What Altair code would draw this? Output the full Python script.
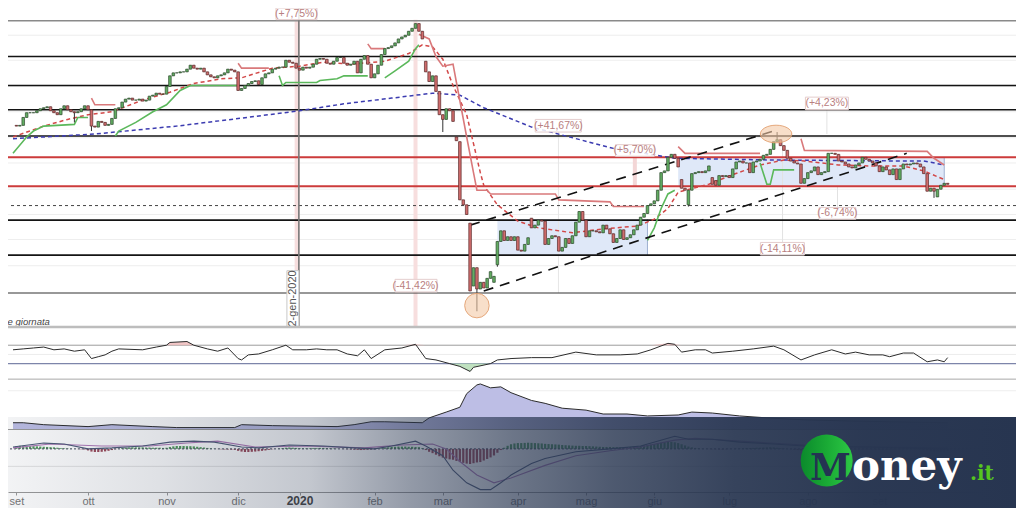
import json
import altair as alt
import pandas as pd

W, H = 1008, 500

# ---------------- values ----------------
month_labels = ["set", "ott", "nov", "dic", "2020", "feb", "mar", "apr", "mag", "giu", "lug", "ago", "set"]
month_start = [0, 21, 44, 65, 83, 105, 125, 147, 167, 187, 209, 232, 253]  # trading-day index

# daily closes (index 0 = 2 set 2019)
close = [
    21340, 21370, 21690, 21880, 21880, 21880, 21960, 22040, 22080, 22120,
    21960, 21880, 21800, 22040, 22160, 22000, 21920, 21880, 21920, 22040,
    22160, 22000, 21340, 21300, 21530, 21490, 21370, 21410, 21650, 22040,
    22080, 22310, 22430, 22470, 22390, 22390, 22430, 22350, 22390, 22550,
    22590, 22670, 22630, 22630, 22940, 23370, 23490, 23490, 23530, 23530,
    23640, 23800, 23680, 23640, 23680, 23530, 23410, 23330, 23290, 23370,
    23410, 23490, 23640, 23600, 23530, 22780, 22860, 22980, 23060, 23140,
    23170, 23020, 23290, 23450, 23490, 23640, 23680, 23720, 23720, 24000,
    23920, 23880, 23680, 23600, 23720, 23680, 23720, 23840, 24040, 24070,
    24040, 23880, 23840, 23960, 24110, 24110, 23880, 23800, 23840, 23960,
    23490, 24040, 24190, 23840, 23290, 23450, 23800, 24230, 24470, 24510,
    24580, 24700, 24860, 24940, 25010, 25170, 25290, 25480, 25170, 24860,
    23530, 23140, 23370, 22740, 21800, 21610, 22040, 21960, 21530, 20750,
    18360, 18160, 17770, 14680, 15620, 14760, 15030, 14800, 15190, 15460,
    15270, 16680, 17110, 16720, 16870, 16720, 16870, 16330, 16290, 16560,
    16830, 17230, 17340, 17540, 17500, 16560, 16800, 16910, 16870, 16290,
    16440, 16800, 16600, 16910, 17460, 17890, 17540, 16870, 17110, 17110,
    17070, 17030, 17340, 17190, 16990, 16640, 16800, 17150, 16760, 16830,
    16950, 17150, 17340, 17660, 17810, 18130, 18200, 18320, 18750, 19460,
    19530, 20080, 20200, 20040, 19690, 18830, 18750, 18750, 19420, 19460,
    19500, 19460, 19530, 19730, 18990, 18950, 19340, 19300, 19340, 19260,
    19610, 19890, 19930, 19850, 19850, 19460, 19890, 19930, 20000, 20160,
    20200, 20400, 20710, 20790, 20550, 20360, 20040, 19930, 19850, 19810,
    19030, 19220, 19460, 19530, 19690, 19380, 19460, 19500, 20240, 20240,
    20200, 19930, 19890, 19810, 19690, 19650, 19770, 19850, 20080, 20000,
    19930, 19850, 19730, 19500, 19690, 19570, 19380, 19610, 19180, 19610,
    19810, 19770, 19810, 19850, 19810, 19690, 19420, 18710, 18830, 18710,
    18790, 18950, 19030, 18990,
]
open_first = 21370
open_gap = {120: 23960, 129: 20900, 130: 20710, 133: 17420, 134: 14880, 140: 15030,
            141: 15740, 151: 17620, 195: 19180, 197: 18160, 204: 19260, 205: 19140, 270: 18480}
wick_high = {135: 15540, 223: 21100}
wick_low = {17: 21490, 22: 21140, 125: 21100, 135: 13860, 141: 15660, 197: 18090, 269: 18440}

# long moving average (blue dashed) and short average (red dashed)
ma_long_i = [-1, 23, 47, 70, 83, 96, 110, 122, 130, 137, 151, 175, 193, 222, 260, 266, 272]
ma_long_v = [20830, 21020, 21340, 21730, 21960, 22240, 22470, 22670, 22590, 22080, 21300,
             20440, 20040, 19970, 19930, 19930, 19770]
ema_i = [-1, 8, 15, 21, 28, 37, 45, 52, 60, 66, 75, 83, 90, 98, 108, 115, 119, 122, 125, 128,
         132, 134, 136, 137, 141, 147, 153, 163, 172, 182, 187, 191, 194, 203, 210, 218, 225,
         231, 241, 250, 260, 266, 272]
ema_v = [20900, 21340, 21610, 21800, 21920, 22390, 22710, 23060, 23250, 23290, 23680, 23760,
         23920, 23840, 23960, 24270, 24620, 24540, 24040, 22980, 21800, 20630, 19460, 18950,
         18160, 17500, 17230, 17030, 17190, 17300, 17580, 18010, 18670, 18990, 19380, 19770,
         19970, 19930, 19770, 19730, 19730, 19530, 19180]

# trailing stop (green under price, red over price)
stop_segments = [
    ("up", [-1, 3, 5, 8, 17, 18, 21], [20240, 20900, 21140, 21340, 21410, 21690, 21690]),
    ("dn", [22, 23, 29], [22470, 22200, 22200]),
    ("up", [29, 30, 35, 40, 44, 48, 51, 65], [20940, 21140, 21490, 21920, 22200, 22780, 22980, 22980]),
    ("dn", [65, 66, 74], [23880, 23680, 23680]),
    ("up", [77, 78, 79, 88, 89, 94, 96, 103], [23370, 22980, 23100, 23100, 23180, 23250, 23370, 23370]),
    ("dn", [103, 104, 108], [24660, 24470, 24470]),
    ("up", [108, 111, 115, 117, 118], [23290, 23570, 23960, 24470, 24620]),
    ("dn", [118, 121, 123, 125, 128, 129, 132, 134, 135, 138, 139, 158, 159, 174, 175, 184],
     [25050, 24860, 24150, 23760, 23840, 23100, 20900, 19460, 18750, 18750, 18600, 18600,
      18360, 18280, 18090, 18090]),
    ("up", [185, 187, 189, 191, 193], [16720, 17230, 18010, 18600, 18750]),
    ("dn", [194, 196, 218], [20510, 20240, 20240]),
    ("up", [218, 220, 221, 222, 228], [19850, 18990, 18990, 19570, 19570]),
    ("dn", [230, 231, 267, 269, 272], [20830, 20360, 20320, 20040, 19770]),
]

channel_i = [[137, 261], [133, 222]]
channel_v = [[14680, 20240], [17340, 21140]]

sr_black = [24150, 22980, 22000, 20940, 17540, 16130]
sr_thin = [14600]
sr_grey = [25600]
sr_red = [20080, 18910]
sr_dashed = [18130]
grid_prices = [25010, 24000, 22940, 21920, 20870, 19850, 18790, 17770, 16760, 15700]

box_i1 = [141, 194]
box_i2 = [185, 272]
box_top = [17580, 20080]
box_bot = [16130, 18910]

circle_i = [135, 222.7]
circle_v = [14090, 21020]

ann_text = ["(+7,75%)", "(-41,42%)", "(+41,67%)", "(+5,70%)", "(+4,23%)", "(-6,74%)", "(-14,11%)"]
ann_i = [82.1, 117.0, 158.9, 181.3, 237.6, 240.7, 224.6]
ann_v = [25875, 14896, 21354, 20357, 22255, 17812, 16384]
ann_x1 = [76.1, 111.0, 152.1, 175.6, 231.3, 235.3, 218.1]
ann_x2 = [88.1, 123.3, 165.6, 187.0, 243.9, 246.1, 231.0]
ann_top = [26110, 15150, 21610, 20590, 22510, 18050, 16640]
ann_bot = [25640, 14640, 21100, 20120, 22000, 17580, 16130]

meas_i = [82.3, 117.0, 181.3, 158.9, 237.6, 224.6, 240.7]
meas_top = [25640, 25640, 20120, 21100, 22000, 20750, 18910]
meas_bot = [13250, 13250, 18910, 14600, 21020, 16640, 18050]
meas_col = ["#f7dede", "#f7dede", "#f3d6d6", "#e6e6e6", "#e2e2e2", "#e2e2e2", "#e2e2e2"]
meas_w = [5, 4, 4, 1, 1, 1, 1]

cursor_i = 82.8
cursor_label = "2-gen-2020"

# RSI
rsi_i = [-1, 2, 5, 8, 11, 14, 17, 20, 22, 24, 26, 28, 30, 37, 41, 44, 45, 50, 52, 56,
         59, 62, 65, 66, 68, 71, 75, 79, 81, 85, 88, 91, 94, 97, 100, 102, 104, 108, 113, 117,
         120, 123, 127, 130, 133, 134, 139, 141, 145, 151, 157, 164, 170, 177, 182, 186, 191, 193, 195, 199,
         202, 204, 210, 216, 222, 225, 230, 234, 239, 243, 246, 250, 254, 256, 260, 263, 267, 270, 272, 273]
rsi_v = [60, 62, 64, 66, 60, 62, 57, 60, 41, 45, 49, 57, 62, 60, 66, 70, 76, 78, 70, 62,
         57, 64, 41, 38, 49, 51, 60, 70, 60, 60, 62, 60, 60, 51, 47, 60, 41, 60, 64, 72,
         41, 38, 30, 24, 13, 22, 30, 38, 41, 43, 43, 55, 49, 49, 51, 60, 74, 72, 55, 60,
         60, 53, 57, 62, 68, 60, 38, 49, 60, 51, 55, 49, 49, 45, 53, 53, 34, 38, 34, 43]

# volatility
vol_i = [-1, 2, 8, 21, 28, 40, 47, 64, 66, 75, 94, 99, 104, 108, 119, 121, 126, 130, 132, 135,
         136, 139, 142, 145, 151, 155, 160, 167, 172, 179, 185, 194, 198, 204, 212, 220, 231, 242, 256, 273]
vol_v = [14, 14, 10, 6, 10, 6, 4, 4, 10, 8, 6, 10, 16, 16, 14, 24, 36, 46, 74, 92,
         94, 86, 88, 76, 60, 54, 44, 40, 32, 32, 28, 30, 36, 34, 28, 24, 20, 18, 16, 14]

# MACD
macd_i = [-1, 8, 14, 21, 28, 37, 45, 52, 58, 66, 71, 80, 90, 99, 105, 110, 117, 120, 125, 128,
          132, 136, 139, 142, 145, 151, 155, 164, 174, 183, 193, 197, 204, 212, 222, 231, 240, 250, 260, 273]
macd_v = [100, 300, 250, 0, 50, 150, 350, 400, 350, 100, 50, 200, 150, 50, 0, 150, 400, 150, -350, -1100,
          -1750, -2100, -2100, -1750, -1350, -750, -500, -150, 0, 150, 650, 500, 500, 350, 250, 150, 100, 100, 50, 0]
sig_i = [-1, 10, 25, 39, 50, 59, 70, 85, 102, 113, 122, 126, 130, 135, 140, 145, 155, 164, 174, 183,
         193, 199, 212, 231, 250, 273]
sig_v = [50, 250, 150, 150, 300, 400, 100, 150, 50, 200, 250, 0, -650, -1350, -1750, -1500, -850, -350,
         -100, 100, 450, 550, 400, 200, 100, 50]
hist = (
    [150, 160, 160, 150, 140, 140, 130, 120, 110, 100, 90, 80, 60]
    + [40, 30, 20, 10, 0, -10, -20, -30]
    + [-80, -140, -160, -160, -150, -130, -100, -60]
    + [-20, 10, 40, 60, 70, 80, 80, 80, 80, 70, 70, 60, 60, 60, 50, 60]
    + [100, 130, 150, 150, 150, 140, 140, 130, 110, 90, 70, 50]
    + [30, 10, -10, -20, -30, -30, -40, -50]
    + [-100, -140, -160, -160, -150, -140, -120, -100, -80, -50]
    + [-20, 0, 20, 40, 60, 70, 60, 50, 40, 30]
    + [30, 30, 40, 40, 50, 50, 40, 30, 20, 10, 0, -10, -20, -30]
    + [-40, -50, -60, -50, -40, -30, -20, 0]
    + [30, 60, 80, 100, 110, 120, 120, 120, 110, 110, 100, 90]
    + [40, -60, -150, -220, -300, -380]
    + [-450, -500, -540, -560, -620, -680, -720, -760, -780, -740, -700, -680]
    + [-600, -520, -440, -340, -200, -60, 60, 160, 240, 280]
    + [300, 300, 310, 320, 310, 300, 290, 280, 260, 250, 240, 230, 220, 200, 190, 180, 170, 160, 160, 150]
    + [150, 140, 130, 120, 110, 100, 100, 100, 90, 90, 80, 80, 90, 100, 110, 130, 150, 180, 200, 220]
    + [250, 280, 320, 350, 360, 360, 340, 300, 240, 180]
    + [120, 80, 50, 30, 10, 0, -10, -20, -20, -30, -30, -20, -10, 0]
    + [10, 20, 30, 40, 40, 50, 60, 60, 70, 80, 90, 80, 60, 40, 20, 0, -20, -40, -60, -80, -100]
    + [-90, -80, -70, -60, -40, -20, 0, 20, 30, 30, 20, 10, 0, -10, -20, -20, -20, -20, -20]
    + [-20, -30, -40, -40, -40, -30, -30, -20, -20, -10, 0, 0, -10, -20, -30, -50, -80, -110, -130, -140, -140, -130, -120]
)

# ---------------- scales / helpers ----------------
FONT = "Liberation Sans"
XS = alt.Scale(domain=[-1.0, 291.57], nice=False, zero=False)
label_expr = "%s[indexof(%s, datum.value)]" % (json.dumps(month_labels), json.dumps(month_start))
XAX = alt.Axis(
    values=month_start, labelExpr=label_expr, orient="bottom", offset=-16, title=None,
    grid=False, domain=True, domainColor="#9a9a9a", domainWidth=1, ticks=True, tickSize=3,
    tickColor="#9a9a9a", labelFont=FONT, labelPadding=0, labelOverlap=False, labelFlush=False,
    labelColor={"expr": "datum.value == 83 ? '#444444' : '#777777'"},
    labelFontSize={"expr": "datum.value == 83 ? 12 : 11"},
    labelFontWeight={"expr": "datum.value == 83 ? 'bold' : 'normal'"},
)
PRICE = alt.Scale(domain=[5914.0, 26110.0], range=[H, 0], nice=False, zero=False)
RSI = alt.Scale(domain=[0, 100], range=[369.43, 323.40], nice=False, zero=False)
VOL = alt.Scale(domain=[0, 100], range=[421.51, 373.06], nice=False, zero=False)
MACD = alt.Scale(domain=[-1000, 1000], range=[460.27, 421.51], nice=False, zero=False)


def X(f):
    return alt.X(f, type="quantitative", scale=XS, axis=XAX)


def Y(f, sc):
    return alt.Y(f, type="quantitative", scale=sc, axis=None)


def hl(values, sc, color, width, dash=None):
    kw = dict(color=color, strokeWidth=width)
    if dash:
        kw["strokeDash"] = dash
    return alt.Chart(pd.DataFrame({"p": values})).mark_rule(**kw).encode(y=Y("p", sc))


one = pd.DataFrame({"a": [0]})
layers = []

# ---------------- price panel ----------------
layers.append(hl(grid_prices, PRICE, "#eeeeee", 1))
layers.append(
    alt.Chart(pd.DataFrame({"x1": box_i1, "x2": box_i2, "t": box_top, "b": box_bot}))
    .mark_rect(color="#dfe8f8")
    .encode(x=X("x1"), x2="x2", y=Y("t", PRICE), y2="b")
)
layers.append(
    alt.Chart(pd.DataFrame({"x": box_i2, "t": box_top, "b": box_bot}))
    .mark_rule(color="#9fb0d0", strokeWidth=1)
    .encode(x=X("x"), y=Y("t", PRICE), y2="b")
)
layers.append(
    alt.Chart(pd.DataFrame({"x": meas_i, "t": meas_top, "b": meas_bot, "c": meas_col, "w": meas_w}))
    .mark_rule()
    .encode(x=X("x"), y=Y("t", PRICE), y2="b", color=alt.Color("c:N", scale=None),
            strokeWidth=alt.StrokeWidth("w:Q", scale=None))
)
layers.append(hl(sr_grey, PRICE, "#8a8a8a", 1.5))
layers.append(hl(sr_black, PRICE, "#141414", 1.7))
layers.append(hl(sr_thin, PRICE, "#333333", 1.1))
layers.append(hl(sr_dashed, PRICE, "#444444", 1, [3, 3]))
layers.append(hl(sr_red, PRICE, "#cc3b3b", 2))
layers.append(
    alt.Chart(pd.DataFrame({"x": [cursor_i], "t": [26200], "b": [13250]}))
    .mark_rule(color="#7a7a7a", strokeWidth=1.6)
    .encode(x=X("x"), y=Y("t", PRICE), y2="b")
)
layers.append(
    alt.Chart(pd.DataFrame({"i": ma_long_i, "v": ma_long_v}))
    .mark_line(color="#3b3bb0", strokeWidth=1.5, strokeDash=[4, 3])
    .encode(x=X("i"), y=Y("v", PRICE))
)
layers.append(
    alt.Chart(pd.DataFrame({"i": ema_i, "v": ema_v}))
    .mark_line(color="#d24848", strokeWidth=1.5, strokeDash=[4, 3])
    .encode(x=X("i"), y=Y("v", PRICE))
)
stop_rows = []
for k, (side, ii, vv) in enumerate(stop_segments):
    for a, b in zip(ii, vv):
        stop_rows.append({"seg": k, "i": a, "v": b, "c": "#5bb85b" if side == "up" else "#d9797b"})
layers.append(
    alt.Chart(pd.DataFrame(stop_rows))
    .mark_line(strokeWidth=1.6)
    .encode(x=X("i"), y=Y("v", PRICE), detail="seg:N", color=alt.Color("c:N", scale=None))
)
ch_rows = []
for k, (ii, vv) in enumerate(zip(channel_i, channel_v)):
    for a, b in zip(ii, vv):
        ch_rows.append({"seg": k, "i": a, "v": b})
layers.append(
    alt.Chart(pd.DataFrame(ch_rows))
    .mark_line(color="#111111", strokeWidth=1.6, strokeDash=[10, 7])
    .encode(x=X("i"), y=Y("v", PRICE), detail="seg:N")
)

# candles
opens = [open_first] + close[:-1]
for k, v in open_gap.items():
    opens[k] = v
cdf = pd.DataFrame({"i": list(range(len(close))), "open": opens, "close": close})
cdf["bhi"] = cdf[["open", "close"]].max(axis=1)
cdf["blo"] = cdf[["open", "close"]].min(axis=1)
cdf["high"] = [max(h, wick_high.get(i, h)) for i, h in enumerate(cdf["bhi"])]
cdf["low"] = [min(lo, wick_low.get(i, lo)) for i, lo in enumerate(cdf["blo"])]
up = [c >= o for o, c in zip(opens, close)]
cdf["fill"] = ["#62ad62" if u else "#d06d6d" for u in up]
cdf["edge"] = ["#2e4a2e" if u else "#5a2a2a" for u in up]
layers.append(
    alt.Chart(cdf).mark_rule(color="#333333", strokeWidth=1)
    .encode(x=X("i"), y=Y("low", PRICE), y2="high")
)
layers.append(
    alt.Chart(cdf).mark_bar(size=2.6, strokeWidth=0.7)
    .encode(x=X("i"), y=Y("bhi", PRICE), y2="blo",
            fill=alt.Fill("fill:N", scale=None), stroke=alt.Stroke("edge:N", scale=None))
)

# highlight circles
layers.append(
    alt.Chart(pd.DataFrame({"i": circle_i[:1], "v": circle_v[:1]}))
    .mark_point(shape="circle", filled=True, size=600, fill="#f3c9a6", fillOpacity=0.6,
                stroke="#e2a070", strokeWidth=1, strokeOpacity=0.9)
    .encode(x=X("i"), y=Y("v", PRICE))
)
layers.append(
    alt.Chart(pd.DataFrame({"i": circle_i[1:], "v": circle_v[1:]}))
    .mark_point(shape="M-1,0A1,0.56,0,1,1,1,0A1,0.56,0,1,1,-1,0Z", filled=True, size=990,
                fill="#f3c9a6", fillOpacity=0.6, stroke="#e2a070", strokeWidth=1, strokeOpacity=0.9)
    .encode(x=X("i"), y=Y("v", PRICE))
)

# measurement annotations
layers.append(
    alt.Chart(pd.DataFrame({"x1": ann_x1, "x2": ann_x2, "t": ann_top, "b": ann_bot}))
    .mark_rect(fill="#ffffff", fillOpacity=0.85, stroke="#e4cdcd", strokeWidth=1)
    .encode(x=X("x1"), x2="x2", y=Y("t", PRICE), y2="b")
)
layers.append(
    alt.Chart(pd.DataFrame({"i": ann_i, "v": ann_v, "t": ann_text}))
    .mark_text(font=FONT, fontSize=10.5, color="#b98080", align="center", baseline="middle")
    .encode(x=X("i"), y=Y("v", PRICE), text="t:N")
)
layers.append(
    alt.Chart(pd.DataFrame({"x1": [79.3], "x2": [82.8], "t": [15500], "b": [13250]}))
    .mark_rect(fill="#ffffff", stroke="#c8c8c8", strokeWidth=1)
    .encode(x=X("x1"), x2="x2", y=Y("t", PRICE), y2="b")
)
layers.append(
    alt.Chart(pd.DataFrame({"i": [81.1], "v": [14380], "t": [cursor_label]}))
    .mark_text(font=FONT, fontSize=11, color="#555555", angle=270, align="center", baseline="middle")
    .encode(x=X("i"), y=Y("v", PRICE), text="t:N")
)
layers.append(
    alt.Chart(pd.DataFrame({"i": [9.8], "v": [13420], "t": ["Dati di fine giornata"]}))
    .mark_text(font=FONT, fontSize=9.5, fontStyle="italic", color="#444444", align="right",
               baseline="middle", clip=True)
    .encode(x=X("i"), y=Y("v", PRICE), text="t:N")
)
layers.append(hl([13220], PRICE, "#bdbdbd", 2.5))

# ---------------- RSI panel ----------------
layers.append(hl([50], RSI, "#ececec", 1))
layers.append(hl([70], RSI, "#9c9c9c", 1))
layers.append(hl([30], RSI, "#7d85aa", 1.2))
layers.append(hl([-3.7], RSI, "#a8a8a8", 1))
rdf = pd.DataFrame({"i": rsi_i, "v": rsi_v})
rdf["hi"] = rdf["v"].clip(lower=70)
rdf["lo"] = rdf["v"].clip(upper=30)
layers.append(
    alt.Chart(rdf).mark_area(color="#efb9b9", opacity=0.8)
    .encode(x=X("i"), y=Y("hi", RSI), y2=alt.datum(70))
)
layers.append(
    alt.Chart(rdf).mark_area(color="#b9dfb9", opacity=0.9)
    .encode(x=X("i"), y=Y("lo", RSI), y2=alt.datum(30))
)
layers.append(
    alt.Chart(rdf).mark_line(color="#2b2b2b", strokeWidth=1)
    .encode(x=X("i"), y=Y("v", RSI))
)

# ---------------- volatility panel ----------------
layers.append(hl([80], VOL, "#eeeeee", 1))
vdf = pd.DataFrame({"i": vol_i, "v": vol_v})
layers.append(
    alt.Chart(vdf).mark_area(color="#b9bae4", opacity=0.95)
    .encode(x=X("i"), y=Y("v", VOL), y2=alt.datum(0))
)
layers.append(
    alt.Chart(vdf).mark_line(color="#2b2b2b", strokeWidth=1)
    .encode(x=X("i"), y=Y("v", VOL))
)
layers.append(hl([0], VOL, "#9a9a9a", 1))

# ---------------- MACD panel ----------------
layers.append(hl([-900], MACD, "#e3e3e3", 1))
hdf = pd.DataFrame({"i": list(range(len(hist))), "h": hist})
hdf["c"] = ["#4f9a5a" if h >= 0 else "#9c4a5a" for h in hist]
layers.append(
    alt.Chart(hdf).mark_bar(size=2.2)
    .encode(x=X("i"), y=Y("h", MACD), y2=alt.datum(0), color=alt.Color("c:N", scale=None))
)
layers.append(hl([0], MACD, "#44485a", 1, [2, 2]))
layers.append(
    alt.Chart(pd.DataFrame({"i": sig_i, "v": sig_v}))
    .mark_line(color="#b07ab8", strokeWidth=1.1)
    .encode(x=X("i"), y=Y("v", MACD))
)
layers.append(
    alt.Chart(pd.DataFrame({"i": macd_i, "v": macd_v}))
    .mark_line(color="#4e5a78", strokeWidth=1.1)
    .encode(x=X("i"), y=Y("v", MACD))
)

# ---------------- brand overlay ----------------
ov_stops = [(0.0, 0.06), (0.15, 0.15), (0.3, 0.28), (0.4, 0.5), (0.5, 0.68),
            (0.6, 0.82), (0.72, 0.93), (0.85, 0.98), (1.0, 1.0)]
ov_grad = alt.LinearGradient(
    gradient="linear", x1=0, x2=1, y1=0, y2=0,
    stops=[alt.GradientStop(color="rgba(39,53,80,%s)" % a, offset=o) for o, a in ov_stops],
)
layers.append(
    alt.Chart(one).mark_rect(color=ov_grad)
    .encode(x=alt.value(0), x2=alt.value(W), y=alt.value(408.9), y2=alt.value(H))
)
logo_grad = alt.LinearGradient(
    gradient="linear", x1=0, x2=1, y1=0, y2=0,
    stops=[alt.GradientStop(color="#0b8a2c", offset=0), alt.GradientStop(color="#1aaa35", offset=0.5),
           alt.GradientStop(color="#2dc845", offset=1)],
)
layers.append(
    alt.Chart(one).mark_point(shape="circle", filled=True, size=2700, fill=logo_grad, opacity=1)
    .encode(x=alt.value(818.7), y=alt.value(452.5))
)
layers.append(
    alt.Chart(one).mark_text(text="M", font="DejaVu Serif", fontWeight="bold", fontSize=37,
                             color="#243352", align="center", baseline="alphabetic")
    .encode(x=alt.value(822.5), y=alt.value(472))
)
layers.append(
    alt.Chart(one).mark_text(text="oney", font="DejaVu Serif", fontWeight="bold", fontSize=42,
                             color="#ffffff", align="left", baseline="alphabetic")
    .encode(x=alt.value(844), y=alt.value(472))
)
layers.append(
    alt.Chart(one).mark_text(text=".it", font="DejaVu Serif", fontWeight="bold", fontSize=20,
                             color="#55c41f", align="left", baseline="alphabetic")
    .encode(x=alt.value(962), y=alt.value(472))
)

chart = (
    alt.layer(*layers)
    .resolve_scale(y="independent")
    .properties(width=W, height=H, autosize=alt.AutoSizeParams(type="none"), padding=0,
                background="#ffffff")
    .configure_view(stroke=None)
)
chart.save("out.html", embed_options={"renderer": "svg", "actions": False})
